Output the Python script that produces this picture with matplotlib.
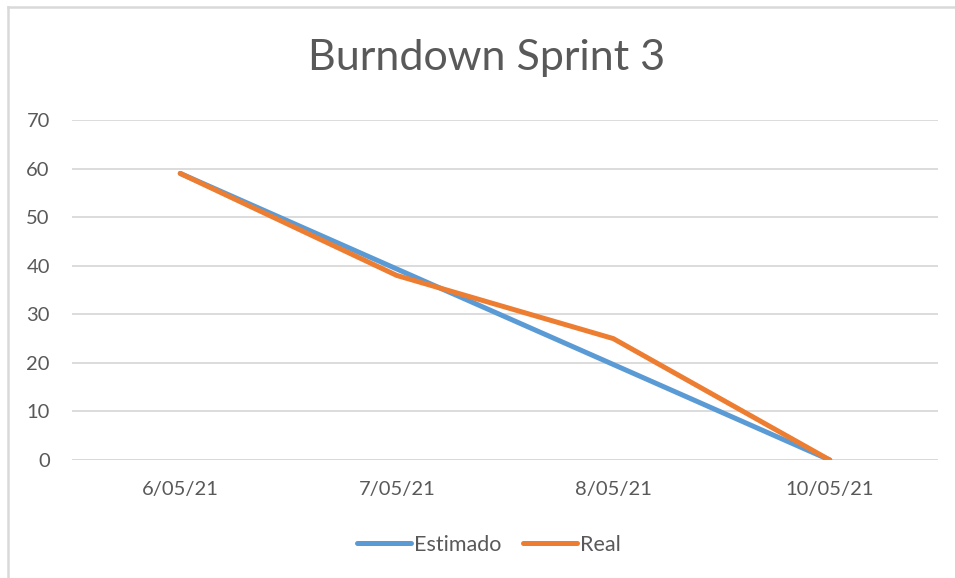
import matplotlib
matplotlib.use("Agg")
import matplotlib.pyplot as plt
from matplotlib.lines import Line2D

plt.rcParams['font.family'] = ['Lato', 'DejaVu Sans']

dates = ["6/05/21", "7/05/21", "8/05/21", "10/05/21"]
estimado = [59, 39.33, 19.67, 0]
real = [59, 38, 25, 0]
y_ticks = [0, 10, 20, 30, 40, 50, 60, 70]

text_color = "#595959"
grid_color = "#D9D9D9"
blue = "#5B9BD5"
orange = "#ED7D31"

fig = plt.figure(figsize=(9.55, 5.78), dpi=100)
ax = fig.add_axes([72 / 955, 1 - 460 / 578, (938 - 72) / 955, (460 - 120) / 578])

x = list(range(len(dates)))
ax.plot(x, estimado, color=blue, lw=3.6, solid_capstyle='round', solid_joinstyle='round', label="Estimado", zorder=3)
ax.plot(x, real, color=orange, lw=3.6, solid_capstyle='round', solid_joinstyle='round', label="Real", zorder=4)

ax.set_xlim(-0.5, len(dates) - 0.5)
ax.set_ylim(0, 70)
ax.set_yticks(y_ticks)
ax.set_xticks(x)
ax.set_xticklabels(dates)
ax.yaxis.grid(True, color=grid_color, lw=1.3)
ax.set_axisbelow(True)
for s in ax.spines.values():
    s.set_visible(False)
ax.tick_params(axis='both', length=0, colors=text_color, labelsize=14.5)
ax.tick_params(axis='y', pad=16)
ax.tick_params(axis='x', pad=15)
ax.axhline(0, color=grid_color, lw=1.3, zorder=1)

fig.text(487 / 955, 1 - 58 / 578, "Burndown Sprint 3", ha='center', va='center',
         fontsize=31, color=text_color)

handles = [Line2D([], [], color=blue, lw=3.6, solid_capstyle='round'),
           Line2D([], [], color=orange, lw=3.6, solid_capstyle='round')]
fig.legend(handles, ["Estimado", "Real"], loc='center', bbox_to_anchor=(489 / 955, 1 - 545 / 578),
           ncol=2, frameon=False, fontsize=15.5, labelcolor=text_color, handlelength=2.5,
           handletextpad=0.15, columnspacing=1.0)

# chart frame: only top and left edges fall inside the canvas
fig.add_artist(Line2D([8 / 955, 8 / 955], [0, 1 - 7 / 578], color="#D9D9D9", lw=1.8, transform=fig.transFigure))
fig.add_artist(Line2D([8 / 955, 1], [1 - 7 / 578, 1 - 7 / 578], color="#D9D9D9", lw=1.8, transform=fig.transFigure))

fig.savefig("out.png", dpi=100)
